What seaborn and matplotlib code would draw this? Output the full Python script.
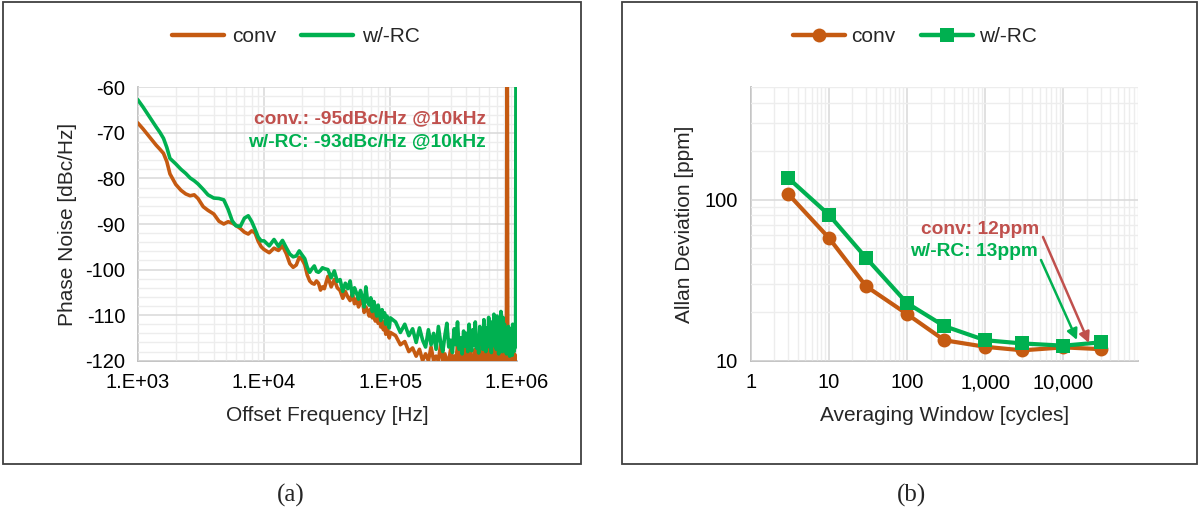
import numpy as np
import pandas as pd
import matplotlib
matplotlib.use("Agg")
import matplotlib.pyplot as plt
from matplotlib.patches import Rectangle
from matplotlib.ticker import FixedLocator, FixedFormatter, NullFormatter, MultipleLocator, LogLocator
import seaborn as sns

# ---------------- data: (a) phase noise ----------------
offset_freq_khz = [
    1, 1.1, 1.2, 1.3, 1.4, 1.5, 1.6, 1.7, 1.8, 2, 2.2, 2.4, 2.6, 2.8, 3, 3.3, 3.6, 4, 4.4, 4.8,
    5.2, 5.6, 6, 6.5, 7, 7.5, 8, 8.5, 9, 9.5, 10,
    11, 12, 13, 14, 15, 16, 17, 18, 19, 20, 21, 22, 23, 24, 25, 26, 27, 28, 29, 30,
    32, 34, 36, 38, 40, 42, 44, 46, 48, 50, 52, 54, 56, 58, 60, 62, 64, 66, 68, 70,
    72, 74, 76, 78, 80, 82, 84, 86, 88, 90, 92, 94, 96, 98, 100,
    110, 120, 130, 140, 150, 160, 170, 180, 190, 200, 210, 220, 230, 240, 250, 260, 270, 280, 290, 300,
    310, 320, 330, 340, 350, 360, 370, 380, 390, 400, 410, 420, 430, 440, 450, 460, 470, 480, 490, 500,
    510, 520, 530, 540, 550, 560, 570, 580, 590, 600, 610, 620, 630, 640, 650, 660, 670, 680, 690, 700,
    710, 720, 730, 740, 750, 760, 770, 780, 790, 800, 810, 820, 830, 840, 850, 860, 870, 880, 890, 900,
    910, 920, 930, 940, 950, 960, 970, 980, 990,
]
pn_conv = [
    -67.8, -69.1, -70.4, -71.6, -72.7, -73.6, -74.5, -76.3, -79.0, -81.3, -82.6, -83.4, -83.8, -83.6, -84.4,
    -86.2, -87.0, -87.8, -89.4, -90.0, -89.5, -89.8, -90.3, -91.0, -91.8, -92.2, -91.5, -92.0, -93.8, -95.0, -95.6,
    -96.3, -95.3, -95.8, -94.8, -96.5, -98.7, -99.5, -99.0, -97.3, -97.8, -98.9, -101.2, -102.5, -103.0, -103.2,
    -102.5, -103.0, -104.5, -103.8, -104.2,
    -101.5, -103.8, -102.2, -104.0, -104.6, -106.3, -104.8, -106.0, -106.8, -105.2, -107.5, -106.4, -108.2, -107.0,
    -106.5, -109.4, -108.2, -109.0, -110.2, -108.6, -110.6, -109.4, -111.3, -110.0, -111.8, -110.8, -112.6, -111.2,
    -113.2, -112.0, -114.2, -112.8, -113.6, -115.0, -113.8,
    -114.5, -116.5, -115.8, -118.0, -117.2, -119.0, -117.5, -120.0, -118.5, -120.0,
    -117.0, -120.0, -119.0, -120.0, -116.5, -120.0, -118.5, -120.0, -120.0, -117.5,
    -120.0, -119.0, -120.0, -116.8, -120.0, -118.2, -120.0, -120.0, -117.0, -120.0,
    -118.8, -120.0, -116.5, -120.0, -119.2, -120.0, -117.5, -120.0, -118.0, -120.0,
    -120.0, -116.8, -120.0, -118.5, -120.0, -117.2, -120.0, -119.0, -120.0, -116.0,
    -120.0, -118.2, -120.0, -117.0, -120.0, -118.8, -120.0, -116.5, -120.0, -118.0,
    -120.0, -115.5, -120.0, -118.5, -120.0, -116.8, -120.0, -119.0, -120.0, -117.5,
    -120.0, -118.0, -120.0, -20.0, -120.0, -118.5, -120.0, -117.8, -120.0, -119.0,
    -120.0, -118.0, -120.0, -119.2, -120.0, -118.5, -120.0, -119.0, -120.0,
]
pn_rc = [
    -62.7, -64.3, -65.9, -67.4, -68.7, -69.9, -71.2, -73.2, -75.6, -76.8, -78.0, -78.9, -79.9, -80.5, -81.2,
    -82.4, -83.6, -84.3, -84.4, -84.7, -86.8, -89.3, -90.4, -90.5, -88.7, -88.2, -89.5, -91.2, -92.9, -93.7, -93.7,
    -94.8, -93.4, -94.9, -93.6, -95.2, -96.6, -97.2, -97.0, -95.9, -96.8, -97.6, -99.5, -100.6, -99.8, -99.2,
    -100.4, -100.6, -100.2, -99.6, -99.8,
    -100.0, -101.8, -100.3, -102.6, -102.2, -104.8, -103.0, -104.2, -102.5, -105.8, -104.0, -105.2, -106.5, -104.6,
    -106.0, -108.2, -103.8, -107.0, -107.8, -106.2, -109.2, -107.0, -108.5, -110.2, -107.8, -109.6, -111.2, -108.8,
    -110.4, -109.5, -112.0, -110.2, -111.4, -112.8, -110.6,
    -111.5, -113.8, -112.0, -114.5, -113.0, -116.0, -112.8, -115.5, -117.0, -113.2,
    -116.5, -114.0, -117.5, -112.5, -116.0, -118.0, -114.5, -111.8, -117.0, -115.5,
    -118.2, -113.0, -116.5, -111.5, -117.5, -115.0, -118.5, -113.5, -116.8, -114.0,
    -118.0, -112.0, -116.0, -117.8, -113.2, -116.5, -111.5, -117.2, -114.8, -118.3,
    -112.5, -116.2, -113.8, -117.5, -111.0, -115.8, -118.0, -112.8, -116.5, -110.5,
    -117.0, -113.5, -118.2, -111.5, -115.5, -109.8, -116.8, -112.0, -117.5, -110.2,
    -115.0, -118.5, -111.0, -116.0, -109.2, -114.5, -118.0, -110.5, -116.2, -112.0,
    -117.8, -113.5, -118.5, -114.0, -117.0, -112.5, -116.8, -119.0, -113.0, -117.5,
    -114.5, -118.8, -112.0, -116.5, -118.0, -113.5, -117.2, -114.0, -20.0,
]
series_names = ["conv", "w/-RC"]

# ---------------- data: (b) Allan deviation ----------------
window_cycles = [3, 10, 30, 100, 300, 1000, 3000, 10000, 30000]
adev_conv = [109, 58, 29, 19.5, 13.4, 12.2, 11.6, 12.1, 11.8]
adev_rc = [137, 80.7, 43.5, 22.8, 16.4, 13.4, 12.8, 12.4, 13.0]

pn_df = pd.concat([
    pd.DataFrame({"freq": np.array(offset_freq_khz) * 1000, "pn": pn_conv, "series": series_names[0]}),
    pd.DataFrame({"freq": np.array(offset_freq_khz) * 1000, "pn": pn_rc, "series": series_names[1]}),
], ignore_index=True)
ad_df = pd.concat([
    pd.DataFrame({"win": window_cycles, "adev": adev_conv, "series": series_names[0]}),
    pd.DataFrame({"win": window_cycles, "adev": adev_rc, "series": series_names[1]}),
], ignore_index=True)

# ---------------- style ----------------
sns.set_theme(style="white")
plt.rcParams['font.family'] = ['Liberation Sans', 'DejaVu Sans']
plt.rcParams['axes.unicode_minus'] = False
ORANGE = "#C55A11"
GREEN = "#00B050"
RED_TXT = "#C0504D"
palette = {"conv": ORANGE, "w/-RC": GREEN}
FS = 15

W, H = 1200, 515
fig = plt.figure(figsize=(W / 100, H / 100), dpi=100)
fig.patch.set_facecolor("white")


def fbox(x0, y0, x1, y1):
    return [x0 / W, 1 - y1 / H, (x1 - x0) / W, (y1 - y0) / H]


def fp(x, y):
    return (x / W, 1 - y / H)


# panel frames
for (x0, x1) in [(3, 581), (622, 1197)]:
    fig.patches.append(Rectangle((x0 / W, 1 - 464 / H), (x1 - x0) / W, (464 - 1.5) / H,
                                 transform=fig.transFigure, fill=False, edgecolor="#404040", lw=1.3))

ax1 = fig.add_axes(fbox(137.7, 87.3, 516.7, 360.7))
ax2 = fig.add_axes(fbox(750.7, 87.3, 1138.3, 360.7))


def style_axes(ax):
    for s in ["top", "right"]:
        ax.spines[s].set_visible(False)
    for s in ["left", "bottom"]:
        ax.spines[s].set_color("#BFBFBF")
        ax.spines[s].set_linewidth(1.3)
        ax.spines[s].set_zorder(0.5)
    ax.tick_params(which="major", direction="out", length=5, width=1.1, color="#BFBFBF",
                   labelsize=FS - 0.5, labelcolor="black", pad=4)
    ax.tick_params(which="minor", length=0)
    ax.grid(True, which="major", color="#D9D9D9", lw=1.1)
    ax.grid(True, which="minor", color="#EDEDED", lw=1.0)
    ax.set_axisbelow(True)


# ---------------- (a) ----------------
sns.lineplot(data=pn_df, x="freq", y="pn", hue="series", palette=palette, estimator=None,
             sort=False, lw=2.6, ax=ax1, legend=True)
ax1.set_xscale("log")
ax1.set_xlim(1e3, 1e6)
ax1.set_ylim(-120, -60)
ax1.xaxis.set_major_locator(FixedLocator([1e3, 1e4, 1e5, 1e6]))
ax1.xaxis.set_major_formatter(FixedFormatter(["1.E+03", "1.E+04", "1.E+05", "1.E+06"]))
ax1.xaxis.set_minor_locator(LogLocator(base=10, subs=np.arange(2, 10)))
ax1.xaxis.set_minor_formatter(NullFormatter())
ax1.yaxis.set_major_locator(MultipleLocator(10))
ax1.yaxis.set_minor_locator(MultipleLocator(2))
style_axes(ax1)
ax1.set_xlabel("Offset Frequency [Hz]", fontsize=FS, labelpad=10)
ax1.set_ylabel("Phase Noise [dBc/Hz]", fontsize=FS, labelpad=6)
h, l = ax1.get_legend_handles_labels()
ax1.legend(h, l, loc="center", bbox_to_anchor=fp(295.5, 37), bbox_transform=fig.transFigure,
           ncol=2, frameon=False, fontsize=FS, handlelength=2.5, handletextpad=0.4, columnspacing=1.2)
for lh in ax1.get_legend().get_lines():
    lh.set_linewidth(3.2)

fig.text(*fp(486, 119), "conv.: -95dBc/Hz @10kHz", color=RED_TXT, fontsize=13.8, fontweight="bold",
         ha="right", va="center")
fig.text(*fp(486, 142), "w/-RC: -93dBc/Hz @10kHz", color=GREEN, fontsize=13.8, fontweight="bold",
         ha="right", va="center")

# ---------------- (b) ----------------
sns.lineplot(data=ad_df, x="win", y="adev", hue="series", palette=palette, style="series",
             markers={"conv": "o", "w/-RC": "s"}, dashes=False, markersize=10, markeredgewidth=0,
             lw=3.0, estimator=None, sort=False, ax=ax2, legend=True)
ax2.set_xscale("log")
ax2.set_yscale("log")
ax2.set_xlim(1, 9.1e4)
ax2.set_ylim(10, 500)
ax2.xaxis.set_major_locator(FixedLocator([1, 10, 100, 1000, 10000]))
ax2.xaxis.set_major_formatter(FixedFormatter(["1", "10", "100", "1,000", "10,000"]))
ax2.xaxis.set_minor_locator(LogLocator(base=10, subs=np.arange(2, 10)))
ax2.xaxis.set_minor_formatter(NullFormatter())
ax2.yaxis.set_major_locator(FixedLocator([10, 100]))
ax2.yaxis.set_major_formatter(FixedFormatter(["10", "100"]))
ax2.yaxis.set_minor_locator(LogLocator(base=10, subs=np.arange(2, 10)))
ax2.yaxis.set_minor_formatter(NullFormatter())
style_axes(ax2)
ax2.set_xlabel("Averaging Window [cycles]", fontsize=FS, labelpad=10)
ax2.set_ylabel("Allan Deviation [ppm]", fontsize=FS, labelpad=8)
h, l = ax2.get_legend_handles_labels()
ax2.legend(h, l, loc="center", bbox_to_anchor=fp(915, 37), bbox_transform=fig.transFigure,
           ncol=2, frameon=False, fontsize=FS, handlelength=2.5, handletextpad=0.3, columnspacing=1.2)
for lh in ax2.get_legend().get_lines():
    lh.set_linewidth(3.2)

fig.text(*fp(1039, 230), "conv: 12ppm", color=RED_TXT, fontsize=13.8, fontweight="bold",
         ha="right", va="center")
fig.text(*fp(1038, 252), "w/-RC: 13ppm", color=GREEN, fontsize=13.8, fontweight="bold",
         ha="right", va="center")
ax2.annotate("", xy=fp(1089, 343), xytext=fp(1043, 237), xycoords="figure fraction",
             textcoords="figure fraction",
             arrowprops=dict(arrowstyle="-|>", color=RED_TXT, lw=1.8, mutation_scale=16,
                             shrinkA=0, shrinkB=0))
ax2.annotate("", xy=fp(1077, 340), xytext=fp(1041, 260), xycoords="figure fraction",
             textcoords="figure fraction",
             arrowprops=dict(arrowstyle="-|>", color=GREEN, lw=1.8, mutation_scale=16,
                             shrinkA=0, shrinkB=0))

# captions
fig.text(*fp(291, 495), "(a)", fontsize=18, family=["Liberation Serif", "DejaVu Serif"],
         ha="center", va="center")
fig.text(*fp(912, 495), "(b)", fontsize=18, family=["Liberation Serif", "DejaVu Serif"],
         ha="center", va="center")

fig.savefig("out.png", dpi=100, facecolor="white")
